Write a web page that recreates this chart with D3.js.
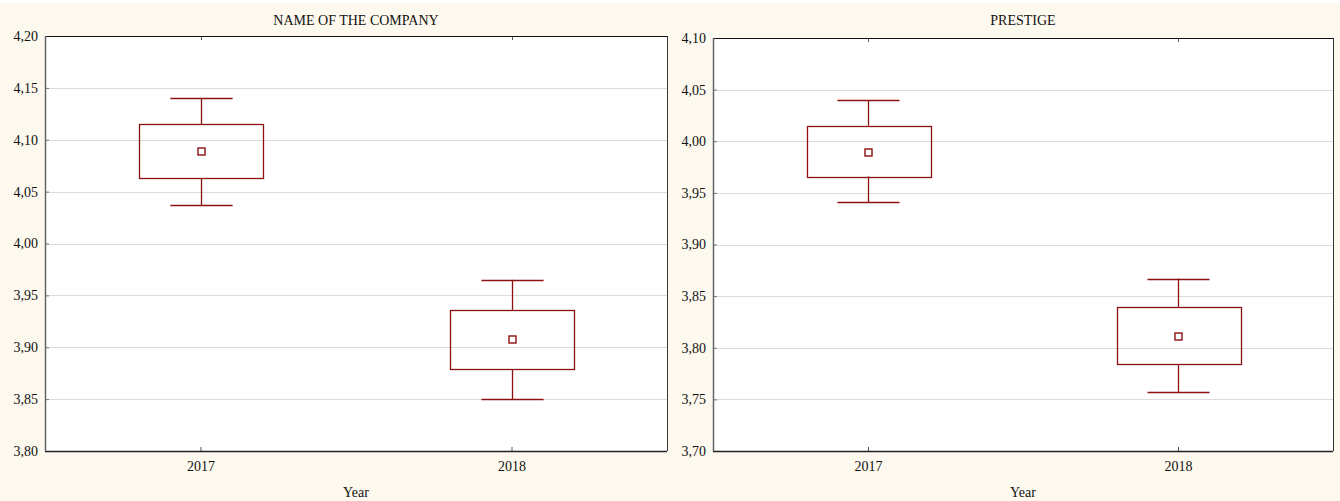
<!DOCTYPE html>
<html>
<head>
<meta charset="utf-8">
<script src="https://cdn.jsdelivr.net/npm/d3@7"></script>
<style>
  html, body { margin: 0; padding: 0; background: #ffffff; }
  svg { display: block; }
  text { font-family: "Liberation Serif", "Times New Roman", serif; fill: #111; }
</style>
</head>
<body>
<svg id="chart" width="1340" height="501"></svg>
<script>
// Categories
const years = ["2017", "2018"];

// Name of the company: mean, box (mean ± SE) and whiskers (mean ± 1.96·SE)
const companyMean      = [4.089, 3.9075];
const companyBoxLow    = [4.063, 3.879];
const companyBoxHigh   = [4.115, 3.936];
const companyWhiskLow  = [4.037, 3.850];
const companyWhiskHigh = [4.140, 3.965];

// Prestige
const prestigeMean      = [3.990, 3.8115];
const prestigeBoxLow    = [3.966, 3.784];
const prestigeBoxHigh   = [4.015, 3.839];
const prestigeWhiskLow  = [3.941, 3.757];
const prestigeWhiskHigh = [4.0395, 3.867];

// Y-axis tick values
const companyTicks  = [3.80, 3.85, 3.90, 3.95, 4.00, 4.05, 4.10, 4.15, 4.20];
const prestigeTicks = [3.70, 3.75, 3.80, 3.85, 3.90, 3.95, 4.00, 4.05, 4.10];

const svg = d3.select("#chart");
const fmt = v => d3.format(".2f")(v).replace(".", ",");
const markColor = "#8e1111";

function panel(opt) {
  const g = svg.append("g");
  // panel background
  g.append("rect")
    .attr("x", opt.bx0).attr("y", 3).attr("width", opt.bx1 - opt.bx0).attr("height", 498)
    .attr("fill", opt.bg);

  const x = d3.scalePoint().domain(years).range([opt.x0, opt.x1]).padding(0.5);
  const y = d3.scaleLinear().domain([opt.ticks[0], opt.ticks[opt.ticks.length - 1]]).range([opt.y1, opt.y0]);
  const px = v => Math.round(v) + 0.5;

  // plot area
  g.append("rect")
    .attr("x", opt.x0).attr("y", opt.y0)
    .attr("width", opt.x1 - opt.x0).attr("height", opt.y1 - opt.y0)
    .attr("fill", "#ffffff");

  // gridlines
  g.append("g").selectAll("line")
    .data(opt.ticks.slice(1, -1))
    .join("line")
    .attr("x1", opt.x0).attr("x2", opt.x1)
    .attr("y1", d => px(y(d))).attr("y2", d => px(y(d)))
    .attr("stroke", "#dcdcdc").attr("stroke-width", 1);

  // y axis
  const yAxis = d3.axisLeft(y).tickValues(opt.ticks).tickFormat(fmt).tickSize(-4).tickPadding(7);
  const ya = g.append("g").attr("transform", `translate(${opt.x0},0)`).call(yAxis);
  ya.select(".domain").remove();
  ya.selectAll(".tick line").attr("stroke", "#777");
  ya.selectAll(".tick text").attr("font-size", 14).attr("font-family", "Liberation Serif, serif").attr("fill", "#111");

  // x axis (bottom) with inward ticks
  const xAxis = d3.axisBottom(x).tickSize(-4).tickPadding(10);
  const xa = g.append("g").attr("transform", `translate(0,${opt.y1})`).call(xAxis);
  xa.select(".domain").remove();
  xa.selectAll(".tick line").attr("stroke", "#555");
  xa.selectAll(".tick text").attr("font-size", 14).attr("font-family", "Liberation Serif, serif").attr("fill", "#111");

  // top ticks
  g.append("g").selectAll("line").data(years).join("line")
    .attr("x1", d => px(x(d))).attr("x2", d => px(x(d)))
    .attr("y1", opt.y0).attr("y2", opt.y0 + 4)
    .attr("stroke", "#555");

  // frame
  g.append("line").attr("x1", opt.x0).attr("x2", opt.x1).attr("y1", px(opt.y0)).attr("y2", px(opt.y0)).attr("stroke", "#111");
  g.append("line").attr("x1", opt.x0).attr("x2", opt.x1).attr("y1", px(opt.y1)).attr("y2", px(opt.y1)).attr("stroke", "#222").attr("stroke-width", 1.5);
  g.append("line").attr("x1", px(opt.x0)).attr("x2", px(opt.x0)).attr("y1", opt.y0).attr("y2", opt.y1).attr("stroke", "#666").attr("stroke-width", 1.5);
  g.append("line").attr("x1", px(opt.x1)).attr("x2", px(opt.x1)).attr("y1", opt.y0).attr("y2", opt.y1).attr("stroke", "#333");

  // boxes and whiskers
  const boxW = x.step() * 0.4;
  const capW = boxW * 0.5;
  const rows = years.map((yr, i) => ({
    yr, mean: opt.mean[i], lo: opt.boxLow[i], hi: opt.boxHigh[i],
    wlo: opt.whiskLow[i], whi: opt.whiskHigh[i]
  }));
  const marks = g.append("g").attr("stroke", markColor).attr("fill", "none").attr("stroke-width", 1.3);
  rows.forEach(r => {
    const cx = px(x(r.yr));
    // whisker stems
    marks.append("line").attr("x1", cx).attr("x2", cx).attr("y1", y(r.whi)).attr("y2", y(r.hi));
    marks.append("line").attr("x1", cx).attr("x2", cx).attr("y1", y(r.lo)).attr("y2", y(r.wlo));
    // caps
    marks.append("line").attr("x1", cx - capW / 2).attr("x2", cx + capW / 2).attr("y1", px(y(r.whi))).attr("y2", px(y(r.whi)));
    marks.append("line").attr("x1", cx - capW / 2).attr("x2", cx + capW / 2).attr("y1", px(y(r.wlo))).attr("y2", px(y(r.wlo)));
    // box
    marks.append("rect")
      .attr("x", px(cx - boxW / 2)).attr("y", px(y(r.hi)))
      .attr("width", Math.round(boxW)).attr("height", Math.round(y(r.lo) - y(r.hi)))
      .attr("fill", "none");
    // mean marker
    marks.append("rect")
      .attr("x", cx - 3.5).attr("y", Math.round(y(r.mean)) - 3)
      .attr("width", 7).attr("height", 7)
      .attr("fill", "#ffffff").attr("stroke-width", 1.4);
  });

  // title and axis label
  g.append("text").attr("x", (opt.x0 + opt.x1) / 2).attr("y", 25)
    .attr("text-anchor", "middle").attr("font-size", 14).text(opt.title);
  g.append("text").attr("x", (opt.x0 + opt.x1) / 2).attr("y", 497)
    .attr("text-anchor", "middle").attr("font-size", 14).text("Year");
}

panel({
  title: "NAME OF THE COMPANY", bg: "#fdf9ee", bx0: 0, bx1: 673,
  x0: 45, x1: 667, y0: 36, y1: 451,
  ticks: companyTicks, mean: companyMean, boxLow: companyBoxLow, boxHigh: companyBoxHigh,
  whiskLow: companyWhiskLow, whiskHigh: companyWhiskHigh
});
panel({
  title: "PRESTIGE", bg: "#fef9ef", bx0: 673, bx1: 1340,
  x0: 713, x1: 1333, y0: 38, y1: 451,
  ticks: prestigeTicks, mean: prestigeMean, boxLow: prestigeBoxLow, boxHigh: prestigeBoxHigh,
  whiskLow: prestigeWhiskLow, whiskHigh: prestigeWhiskHigh
});
</script>
</body>
</html>
